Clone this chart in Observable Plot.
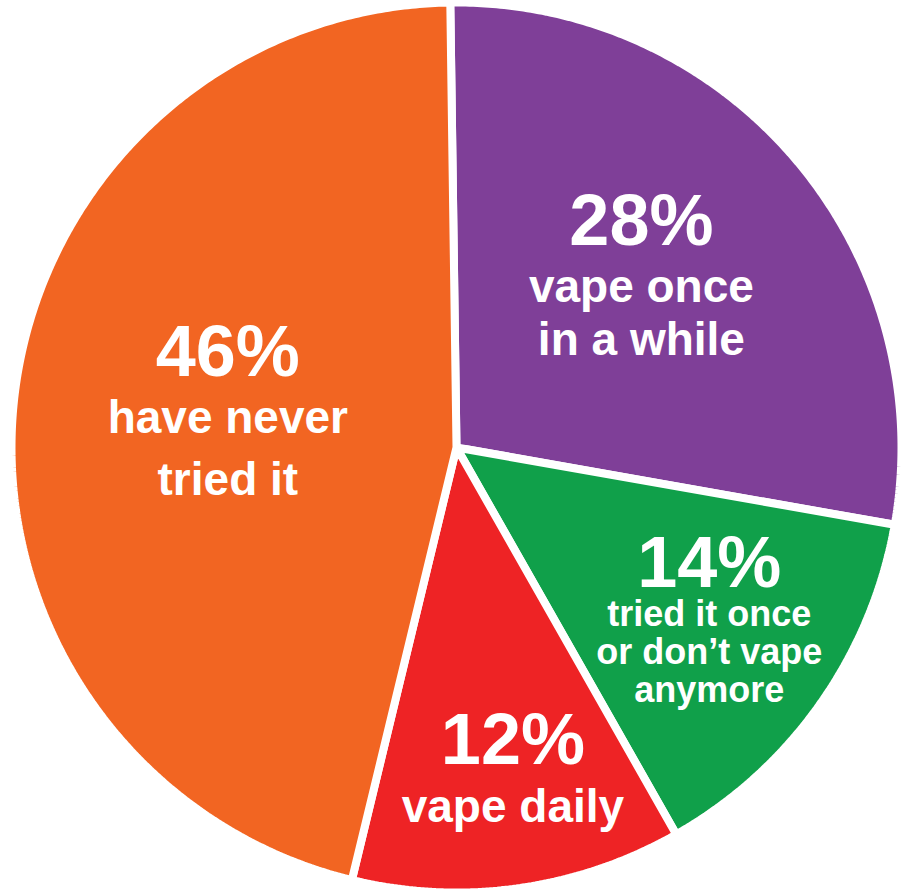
<!DOCTYPE html>
<html>
<head>
<meta charset="utf-8">
<script src="https://cdn.jsdelivr.net/npm/d3@7"></script>
<script src="https://cdn.jsdelivr.net/npm/@observablehq/plot@0.6"></script>
<style>
  html, body { margin: 0; padding: 0; background: #ffffff; }
  #chart svg { display: block; }
</style>
</head>
<body>
<div id="chart"></div>
<script>
// ---- data ----
const categories = ["vape once in a while", "tried it once or don't vape anymore", "vape daily", "have never tried it"];
const percents = [28, 14, 12, 46];
const percentLabels = ["28%", "14%", "12%", "46%"];
const labelLines = [
  ["vape once", "in a while"],
  ["tried it once", "or don\u2019t vape", "anymore"],
  ["vape daily"],
  ["have never", "tried it"]
];
const colors = ["#7F3F98", "#10A04A", "#EE2325", "#F26522"];

// ---- layout / style (not data) ----
const W = 902, H = 892;
const cxPx = 456, cyPx = 447, K = 445;          // pixels per data unit (radius 1)
const startDeg = -0.8;
const labelLayout = [
  {nudge: -2.7, rf: 0.569, size: 46, pctGap: 57, gap: 53},
  {nudge: -1.1, rf: 0.686, size: 36, pctGap: 39, gap: 38},
  {nudge: -2.0, rf: 0.730, size: 46, pctGap: 58, gap: 0},
  {nudge: 3.1,  rf: 0.521, size: 46, pctGap: 57, gap: 62}
];
const pctSize = 72;

const start = startDeg * Math.PI / 180;
const arcs = d3.pie().sort(null).value(d => d.value).startAngle(start).endAngle(start + 2 * Math.PI)(
  categories.map((c, i) => ({category: c, value: percents[i], i}))
);

// slice outlines (center + arc samples), angle clockwise from top
const slicePts = [];
for (const a of arcs) {
  const c = a.data.category;
  slicePts.push({category: c, x: 0, y: 0});
  const n = Math.max(2, Math.ceil((a.endAngle - a.startAngle) / (Math.PI / 360)));
  for (let k = 0; k <= n; k++) {
    const t = a.startAngle + (a.endAngle - a.startAngle) * k / n;
    slicePts.push({category: c, x: Math.sin(t), y: Math.cos(t)});
  }
}

// label rows
const textRows = [];
arcs.forEach((a, idx) => {
  const i = a.data.i;
  const L = labelLayout[i];
  const mid = (a.startAngle + a.endAngle) / 2 + L.nudge * Math.PI / 180;
  const bx = Math.sin(mid) * L.rf, by = Math.cos(mid) * L.rf;
  const lines = labelLines[i];
  const capH = 0.716 * pctSize;
  const blockH = capH + L.pctGap + L.gap * (lines.length - 1);
  const topPx = -blockH / 2;
  const pctBase = topPx + capH;
  textRows.push({text: percentLabels[i], x: bx, y: by - pctBase / K, size: pctSize});
  lines.forEach((t, k) => {
    const base = pctBase + L.pctGap + k * L.gap;
    textRows.push({text: t, x: bx, y: by - base / K, size: L.size});
  });
});

const chart = Plot.plot({
  width: W,
  height: H,
  margin: 0,
  x: {domain: [-cxPx / K, (W - cxPx) / K], axis: null},
  y: {domain: [-(H - cyPx) / K, cyPx / K], axis: null},
  color: {domain: categories, range: colors},
  style: {background: "#ffffff"},
  marks: [
    Plot.line(slicePts, {
      x: "x", y: "y", z: "category", fill: "category",
      stroke: "#ffffff", strokeWidth: 8, strokeOpacity: 1,
      curve: "linear-closed", strokeLinejoin: "miter"
    }),
    Plot.text(textRows, {
      x: "x", y: "y", text: "text", fontSize: "size",
      fill: "#ffffff", fontWeight: "bold",
      fontFamily: "'Liberation Sans', Arial, Helvetica, sans-serif",
      textAnchor: "middle", lineAnchor: "bottom"
    })
  ]
});
document.getElementById("chart").appendChild(chart);
</script>
</body>
</html>
